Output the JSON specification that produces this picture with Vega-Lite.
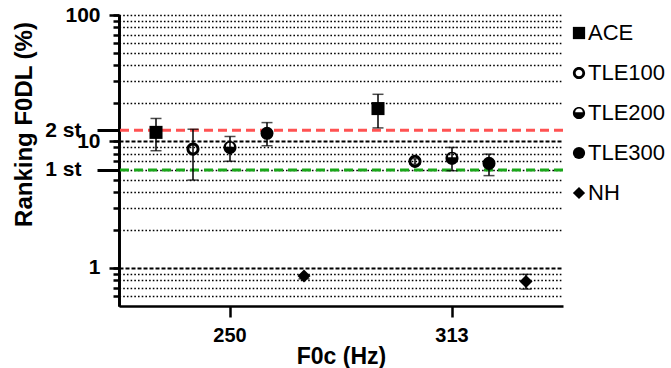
{
  "$schema": "https://vega.github.io/schema/vega-lite/v6.json",
  "autosize": {"type": "none"},
  "padding": {"left": 119, "top": 15, "right": 108, "bottom": 62},
  "width": 444,
  "height": 291,
  "config": {
    "font": "Liberation Sans",
    "view": {"stroke": null},
    "axis": {"domainColor": "black", "tickColor": "black", "tickOpacity": 1, "ticks": true, "labelColor": "black", "titleColor": "black"}
  },
  "datasets": {
    "pts": [
      {"f0": "250", "group": "ACE", "mean": 11.8, "lo": 8.45, "hi": 15.2},
      {"f0": "250", "group": "TLE100", "mean": 8.7, "lo": 4.95, "hi": 12.5},
      {"f0": "250", "group": "TLE200", "mean": 8.97, "lo": 6.97, "hi": 10.95},
      {"f0": "250", "group": "TLE300", "mean": 11.6, "lo": 9.25, "hi": 14.1},
      {"f0": "250", "group": "NH", "mean": 0.865, "lo": 0.82, "hi": 0.88},
      {"f0": "313", "group": "ACE", "mean": 18.2, "lo": 12.8, "hi": 23.6},
      {"f0": "313", "group": "TLE100", "mean": 6.96, "lo": 6.6, "hi": 7.3},
      {"f0": "313", "group": "TLE200", "mean": 7.38, "lo": 5.87, "hi": 8.97},
      {"f0": "313", "group": "TLE300", "mean": 6.71, "lo": 5.37, "hi": 7.94},
      {"f0": "313", "group": "NH", "mean": 0.78, "lo": 0.68, "hi": 0.89}
    ],
    "refs": [
      {"ref": "2 st", "value": 12.25},
      {"ref": "1 st", "value": 5.95}
    ]
  },
  "resolve": {"axis": {"y": "independent"}},
  "encoding": {
    "x": {
      "field": "f0", "type": "nominal",
      "scale": {"type": "band", "domain": ["250", "313"], "paddingInner": 0, "paddingOuter": 0},
      "axis": {
        "title": "F0c (Hz)", "labelAngle": 0, "labelFontSize": 20, "labelFontWeight": "bold",
        "titleFontSize": 23, "titleFontWeight": "bold", "tickSize": 11, "tickWidth": 2.5,
        "domainWidth": 2.5, "labelPadding": 8, "titlePadding": 0
      }
    }
  },
  "layer": [
    {
      "data": {"name": "refs"},
      "mark": {"type": "rule", "strokeWidth": 3, "strokeDash": [9, 5]},
      "encoding": {
        "x": null,
        "y": {
          "field": "value", "type": "quantitative",
          "scale": {"type": "log", "domain": [0.5, 100], "nice": false},
          "axis": {
            "orient": "left",
            "title": null,
            "values": [0.6, 0.7, 0.8, 0.9, 1, 2, 3, 4, 5, 6, 7, 8, 9, 10, 20, 30, 40, 50, 60, 70, 80, 90, 100],
            "labels": false,
            "domainWidth": 2.5,
            "tickWidth": 2.5,
            "tickSize": 6,
            "grid": true,
            "gridColor": "black",
            "gridCap": "butt",
            "gridDash": {"condition": {"test": "datum.value == 1 || datum.value == 10", "value": [4, 2]}, "value": [1.6, 2.1]},
            "gridWidth": {"condition": {"test": "datum.value == 1 || datum.value == 10", "value": 2}, "value": 1.6}
          }
        },
        "color": {
          "field": "ref", "type": "nominal",
          "scale": {"domain": ["2 st", "1 st"], "range": ["#ff5252", "#1aa81a"]},
          "legend": null
        }
      }
    },
    {
      "data": {"name": "pts"},
      "mark": {"type": "rule", "color": "black", "strokeWidth": 1.5},
      "encoding": {
        "xOffset": {"field": "group", "type": "nominal", "scale": {"domain": ["ACE", "TLE100", "TLE200", "TLE300", "NH"], "paddingInner": 0, "paddingOuter": 0.5}},
        "y": {
          "field": "lo", "type": "quantitative",
          "axis": {
            "orient": "left",
            "title": "Ranking F0DL (%)",
            "titleFontSize": 24, "titleFontWeight": "bold",
            "titleX": -95, "titleY": 109, "titleBaseline": "middle", "titleAngle": -90,
            "values": [1, 10, 100],
            "format": "~g",
            "labelFontSize": 21, "labelFontWeight": "bold", "labelOverlap": false, "labelFlush": false, "labelBound": false,
            "domainWidth": 2.5, "tickWidth": 2.5, "tickSize": 10, "labelPadding": 9,
            "grid": false
          }
        },
        "y2": {"field": "hi"}
      }
    },
    {
      "data": {"name": "pts"},
      "mark": {"type": "tick", "color": "black", "size": 11, "thickness": 1.5, "orient": "horizontal"},
      "encoding": {
        "xOffset": {"field": "group", "type": "nominal"},
        "y": {
          "field": "lo", "type": "quantitative",
          "axis": {
            "orient": "left",
            "title": null,
            "values": [5.95, 12.25],
            "labelExpr": "datum.value > 10 ? '2 st' : '1 st'",
            "labelFontSize": 21, "labelFontWeight": "bold", "labelOverlap": false, "labelFlush": false, "labelBound": false,
            "domainWidth": 2.5, "tickWidth": 3, "tickSize": 22, "labelPadding": 16,
            "grid": false
          }
        }
      }
    },
    {
      "data": {"name": "pts"},
      "mark": {"type": "tick", "color": "black", "size": 11, "thickness": 1.5, "orient": "horizontal"},
      "encoding": {
        "xOffset": {"field": "group", "type": "nominal"},
        "y": {"field": "hi", "type": "quantitative", "axis": null}
      }
    },
    {
      "data": {"name": "pts"},
      "mark": {"type": "point", "filled": true, "opacity": 1, "size": 170, "color": "black", "strokeWidth": 0},
      "encoding": {
        "xOffset": {"field": "group", "type": "nominal"},
        "y": {"field": "mean", "type": "quantitative", "axis": null},
        "shape": {
          "field": "group", "type": "nominal",
          "scale": {
            "domain": ["ACE", "TLE100", "TLE200", "TLE300", "NH"],
            "range": [
              "square",
              "M-1,0A1,1,0,1,1,1,0A1,1,0,1,1,-1,0Z M0.55,0A0.55,0.55,0,1,0,-0.55,0A0.55,0.55,0,1,0,0.55,0Z",
              "M-1,0A1,1,0,1,1,1,0A1,1,0,1,1,-1,0Z M0.62,-0.12A0.62,0.62,0,0,0,-0.62,-0.12Z",
              "circle",
              "diamond"
            ]
          },
          "legend": {
            "title": null, "orient": "none", "legendX": 449, "legendY": 7,
            "labelFontSize": 22, "labelFont": "Liberation Sans", "labelColor": "black",
            "symbolSize": 150, "symbolFillColor": "black", "symbolStrokeWidth": 0, "symbolOpacity": 1,
            "labelOffset": -2, "rowPadding": 18, "padding": 0, "offset": 0
          }
        }
      }
    }
  ]
}
